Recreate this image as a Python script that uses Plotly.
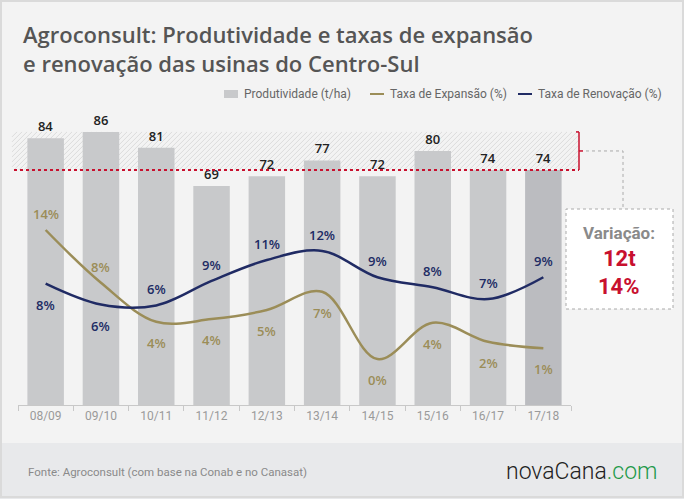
import plotly.graph_objects as go

safras = ["08/09", "09/10", "10/11", "11/12", "12/13", "13/14", "14/15", "15/16", "16/17", "17/18"]
produtividade = [84, 86, 81, 69, 72, 77, 72, 80, 74, 74]
taxa_expansao = [14.2, 8.4, 4.1, 4.4, 5.4, 7.4, 0.0, 4.0, 1.9, 1.2]
taxa_renovacao = [8.3, 6.0, 5.9, 8.6, 10.9, 11.9, 9.0, 7.9, 6.6, 9.0]

# where the % labels sit (above/below the line)
pos_expansao = ["a", "a", "b", "b", "b", "b", "b", "b", "b", "b"]
pos_renovacao = ["b", "b", "a", "a", "a", "a", "a", "a", "a", "a"]

W, H = 684, 499
PL, PT, PW, PH = 18, 110, 553, 295
Y1_MAX = 92.9
Y2_MIN, Y2_MAX = -5.05, 27.4

BG = "#f3f3f3"
BAR = "#c8c9cb"
BAR_LAST = "#bbbcc0"
OLIVE = "#9b8d58"
NAVY = "#202b64"
RED = "#c8102e"
FONT = "Roboto"
TFONT = "Open Sans"


def px_x(px):
    return (px - PL) / PW


def px_y(py):
    return (PT + PH - py) / PH


def val_py(v):
    return PT + PH - v / Y1_MAX * PH


def pct(v):
    return f"{int(v + 0.5)}%"


def note(xpx, ypx, text, font, xanchor="left"):
    return dict(x=px_x(xpx), y=px_y(ypx), xref="paper", yref="paper",
                xanchor=xanchor, yanchor="middle", text=text, showarrow=False,
                align="left", font=font)


fig = go.Figure()

fig.add_trace(go.Bar(
    x=safras, y=produtividade, name="Produtividade (t/ha)",
    marker=dict(color=[BAR] * (len(safras) - 1) + [BAR_LAST], line=dict(width=0)),
    text=produtividade, textposition="outside", cliponaxis=False,
    textfont=dict(family=TFONT, size=13, color="#222222", weight=600),
    hoverinfo="skip",
))
fig.add_trace(go.Scatter(
    x=safras, y=taxa_expansao, yaxis="y2", mode="lines", name="Taxa de Expansão (%)",
    line=dict(color=OLIVE, width=2.5, shape="spline", smoothing=1),
    hoverinfo="skip",
))
fig.add_trace(go.Scatter(
    x=safras, y=taxa_renovacao, yaxis="y2", mode="lines", name="Taxa de Renovação (%)",
    line=dict(color=NAVY, width=2.5, shape="spline", smoothing=1),
    hoverinfo="skip",
))

annotations = []
for vals, poss, col in [(taxa_expansao, pos_expansao, OLIVE), (taxa_renovacao, pos_renovacao, NAVY)]:
    for s, v, p in zip(safras, vals, poss):
        annotations.append(dict(
            x=s, y=v, xref="x", yref="y2", text=pct(v), showarrow=False,
            xanchor="center", yanchor="middle",
            yshift=16 if p == "a" else -21,
            font=dict(family=TFONT, size=13, color=col, weight=600),
        ))

shapes = []

# footer band and frame
shapes.append(dict(type="rect", xref="paper", yref="paper", layer="below",
                   x0=px_x(0), x1=px_x(W), y0=px_y(H), y1=px_y(443),
                   fillcolor="#e8e9eb", line=dict(width=0)))
shapes.append(dict(type="rect", xref="paper", yref="paper", layer="above",
                   x0=px_x(1), x1=px_x(W - 1), y0=px_y(H - 2), y1=px_y(1),
                   line=dict(color="#dadada", width=2)))

# hatched band between top value and last value
top_v = max(produtividade)
last_v = produtividade[-1]
hx0, hx1 = 12, 579
hy0, hy1 = val_py(top_v), val_py(last_v)
path = []
c = hx0 + hy0
while c < hx1 + hy1:
    ya = min(hy1, c - hx0)
    xa = c - ya
    yb = max(hy0, c - hx1)
    xb = c - yb
    if xa <= hx1 and xb >= hx0:
        path.append(f"M{px_x(xa):.5f},{px_y(ya):.5f} L{px_x(xb):.5f},{px_y(yb):.5f}")
    c += 5
shapes.append(dict(type="path", xref="paper", yref="paper", layer="below",
                   path=" ".join(path), line=dict(color="#dcdcdc", width=1)))

# red dotted line at the last value + bracket
shapes.append(dict(type="line", xref="paper", yref="paper", layer="above",
                   x0=px_x(14), x1=px_x(579), y0=px_y(hy1), y1=px_y(hy1),
                   line=dict(color=RED, width=2, dash="dot")))
shapes.append(dict(type="line", xref="paper", yref="paper",
                   x0=px_x(579), x1=px_x(579), y0=px_y(hy0), y1=px_y(hy1),
                   line=dict(color=RED, width=1.5)))
shapes.append(dict(type="line", xref="paper", yref="paper",
                   x0=px_x(576), x1=px_x(579), y0=px_y(hy0), y1=px_y(hy0),
                   line=dict(color=RED, width=1.5)))
mid = (hy0 + hy1) / 2
shapes.append(dict(type="line", xref="paper", yref="paper",
                   x0=px_x(579), x1=px_x(583), y0=px_y(mid), y1=px_y(mid),
                   line=dict(color=RED, width=1.5)))
# connector to box
shapes.append(dict(type="path", xref="paper", yref="paper",
                   path=f"M{px_x(586)},{px_y(mid)} L{px_x(623)},{px_y(mid)} L{px_x(623)},{px_y(208)}",
                   line=dict(color="#aaaaaa", width=1, dash="dot")))
# box
shapes.append(dict(type="rect", xref="paper", yref="paper",
                   x0=px_x(566), x1=px_x(673), y0=px_y(309), y1=px_y(209),
                   fillcolor="#ffffff", line=dict(color="#aaaaaa", width=1, dash="dot")))

dif = top_v - last_v
annotations += [
    note(619, 233, "Variação:", dict(family=FONT, size=17, color="#8a8a8a", weight=700), "center"),
    note(619, 258, f"{dif}t", dict(family=FONT, size=22, color=RED, weight=700), "center"),
    note(619, 286, pct(dif / top_v * 100), dict(family=FONT, size=22, color=RED, weight=700), "center"),
]

# title
annotations.append(note(21, 49, "Agroconsult: Produtividade e taxas de expansão<br>e renovação das usinas do Centro-Sul",
                        dict(family=TFONT, size=22, color="#555555", weight=600)))

# legend
shapes.append(dict(type="rect", xref="paper", yref="paper",
                   x0=px_x(224), x1=px_x(238), y0=px_y(98), y1=px_y(90),
                   fillcolor=BAR, line=dict(width=0)))
shapes.append(dict(type="line", xref="paper", yref="paper",
                   x0=px_x(370), x1=px_x(384), y0=px_y(94), y1=px_y(94),
                   line=dict(color=OLIVE, width=2)))
shapes.append(dict(type="line", xref="paper", yref="paper",
                   x0=px_x(518), x1=px_x(532), y0=px_y(94), y1=px_y(94),
                   line=dict(color=NAVY, width=2)))
for xpx, txt in [(242, "Produtividade (t/ha)"), (388, "Taxa de Expansão (%)"), (536, "Taxa de Renovação (%)")]:
    annotations.append(note(xpx, 94, txt, dict(family=FONT, size=12, color="#666666")))

# footer
annotations.append(note(26, 472, "Fonte: Agroconsult (com base na Conab e no Canasat)",
                        dict(family=FONT, size=11.5, color="#8a8a8a")))
annotations.append(note(660, 471, "novaCana<span style='color:#1e9a4a'>.com</span>",
                        dict(family=FONT, size=23, color="#222222", weight=300), "right"))

fig.update_layout(
    width=W, height=H,
    margin=dict(l=PL, r=W - PL - PW, t=PT, b=H - PT - PH, pad=0),
    paper_bgcolor=BG, plot_bgcolor="rgba(0,0,0,0)",
    showlegend=False, bargap=0.34,
    font=dict(family=FONT),
    xaxis=dict(type="category", showline=True, linecolor="#c8c8c8", linewidth=1,
               ticks="outside", tickson="boundaries", ticklen=5, tickcolor="#c8c8c8",
               showgrid=False, tickfont=dict(family=FONT, size=12, color="#9a9a9a"),
               range=[-0.5, len(safras) - 0.5], fixedrange=True),
    yaxis=dict(visible=False, range=[0, Y1_MAX], fixedrange=True),
    yaxis2=dict(visible=False, overlaying="y", range=[Y2_MIN, Y2_MAX], fixedrange=True),
    shapes=shapes, annotations=annotations,
)

fig.write_html("out.html", config={"displayModeBar": False},
               post_script="document.body.style.margin='0';")
